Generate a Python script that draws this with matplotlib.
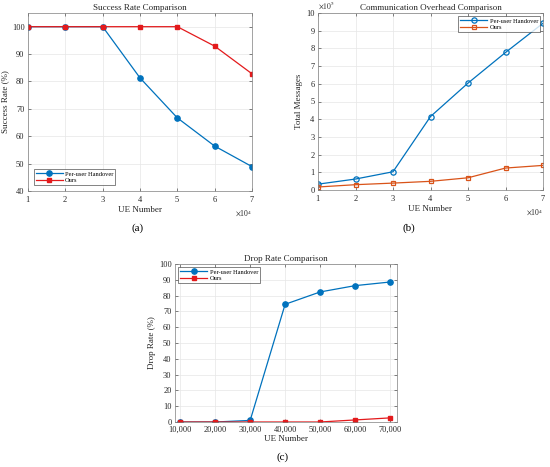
import numpy as np
import matplotlib
matplotlib.use("Agg")
import matplotlib.pyplot as plt
from matplotlib.ticker import ScalarFormatter, FuncFormatter

plt.rcParams["font.family"] = ["Liberation Serif", "DejaVu Serif"]
plt.rcParams["mathtext.fontset"] = "stix"

ue_number = [10000, 20000, 30000, 40000, 50000, 60000, 70000]

success_peruser = [100, 100, 100, 81.3, 66.7, 56.4, 48.9]
success_ours = [100, 100, 100, 100, 100, 92.9, 82.8]

overhead_peruser = [0.33e5, 0.62e5, 1.03e5, 4.15e5, 6.04e5, 7.77e5, 9.42e5]
overhead_ours = [0.17e5, 0.30e5, 0.39e5, 0.49e5, 0.69e5, 1.24e5, 1.39e5]

drop_peruser = [0, 0, 1.0, 74.5, 82.3, 86.3, 88.6]
drop_ours = [0, 0, 0, 0, 0, 1.3, 2.6]

blue = "#0072BD"
orange = "#D95319"
red = "#E31A1C"
txt = "#262626"
fs = 6


def style(ax):
    ax.grid(True, color="#e6e6e6", linewidth=0.5)
    ax.set_axisbelow(True)
    ax.tick_params(direction="in", length=2, width=0.4, labelsize=fs,
                   colors=txt, top=True, right=True, pad=2.5)
    for s in ax.spines.values():
        s.set_linewidth(0.5)
        s.set_color("#7f7f7f")


def sci_x(ax):
    f = ScalarFormatter(useMathText=True)
    f.set_powerlimits((0, 0))
    ax.xaxis.set_major_formatter(f)
    ax.xaxis.get_offset_text().set_fontsize(fs - 0.5)
    ax.xaxis.get_offset_text().set_color(txt)


def legend(ax, loc, pad):
    leg = ax.legend(loc=loc, fontsize=4.6, frameon=True,
                    fancybox=False, edgecolor="#262626", handlelength=4.2,
                    borderaxespad=pad, labelspacing=0.2, borderpad=0.3,
                    handletextpad=0.4)
    leg.get_frame().set_linewidth(0.5)


W, H = 550, 467
fig = plt.figure(figsize=(W / 100, H / 100), dpi=100)


def box(l, r, t, b):
    return [l / W, 1 - b / H, (r - l) / W, (b - t) / H]


# (a) success rate
ax1 = fig.add_axes(box(28, 252, 13, 191))
ax1.plot(ue_number, success_peruser, "-o", color=blue, lw=0.9, ms=3.8,
         label="Per-user Handover")
ax1.plot(ue_number, success_ours, "-s", color=red, lw=0.9, ms=3.4,
         label="Ours")
ax1.set_xlim(10000, 70000)
ax1.set_ylim(40, 105)
ax1.set_yticks(range(40, 101, 10))
ax1.set_xticks(ue_number)
sci_x(ax1)
style(ax1)
ax1.set_title("Success Rate Comparison", fontsize=fs + 0.5, color=txt, pad=2)
ax1.set_xlabel("UE Number", fontsize=fs + 0.5, color=txt, labelpad=1)
ax1.set_ylabel("Success Rate (%)", fontsize=fs + 0.5, color=txt, labelpad=2)
legend(ax1, "lower left", 0.9)

# (b) communication overhead
ax2 = fig.add_axes(box(318, 543, 13, 190))
ax2.plot(ue_number, overhead_peruser, "-o", color=blue, lw=0.9, ms=3.8,
         mfc="none", mew=0.9, label="Per-user Handover")
ax2.plot(ue_number, overhead_ours, "-s", color=orange, lw=0.9, ms=3.4,
         mfc="none", mew=0.9, label="Ours")
ax2.set_xlim(10000, 70000)
ax2.set_ylim(0, 1e6)
ax2.set_xticks(ue_number)
ax2.set_yticks(np.arange(0, 1.01e6, 1e5))
ax2.yaxis.set_major_formatter(FuncFormatter(lambda v, p: f"{v / 1e5:g}"))
sci_x(ax2)
style(ax2)
ax2.text(0, 1.012, r"$\times 10^{5}$", transform=ax2.transAxes,
         fontsize=fs - 0.5, color=txt, ha="left", va="bottom")
ax2.set_title("Communication Overhead Comparison", fontsize=fs + 0.5,
              color=txt, pad=2)
ax2.set_xlabel("UE Number", fontsize=fs + 0.5, color=txt, labelpad=1)
ax2.set_ylabel("Total Messages", fontsize=fs + 0.5, color=txt, labelpad=2)
legend(ax2, "upper right", 0.5)

# (c) drop rate
ax3 = fig.add_axes(box(175, 397, 264, 422))
ax3.plot(ue_number, drop_peruser, "-o", color=blue, lw=0.9, ms=3.8,
         label="Per-user Handover")
ax3.plot(ue_number, drop_ours, "-s", color=red, lw=0.9, ms=3.4,
         label="Ours")
ax3.set_xlim(8500, 72000)
ax3.set_ylim(0, 100)
ax3.set_yticks(range(0, 101, 10))
ax3.set_xticks(ue_number)
ax3.set_xticklabels([f"{v:,}" for v in ue_number])
style(ax3)
ax3.set_title("Drop Rate Comparison", fontsize=fs + 0.5, color=txt, pad=2)
ax3.set_xlabel("UE Number", fontsize=fs + 0.5, color=txt, labelpad=1)
ax3.set_ylabel("Drop Rate (%)", fontsize=fs + 0.5, color=txt, labelpad=2)
legend(ax3, "upper left", 0.5)

fig.text(138 / W, 1 - 228 / H, "(a)", fontsize=8, ha="center", va="center")
fig.text(409 / W, 1 - 228 / H, "(b)", fontsize=8, ha="center", va="center")
fig.text(283 / W, 1 - 457 / H, "(c)", fontsize=8, ha="center", va="center")

fig.savefig("out.png", dpi=100)
